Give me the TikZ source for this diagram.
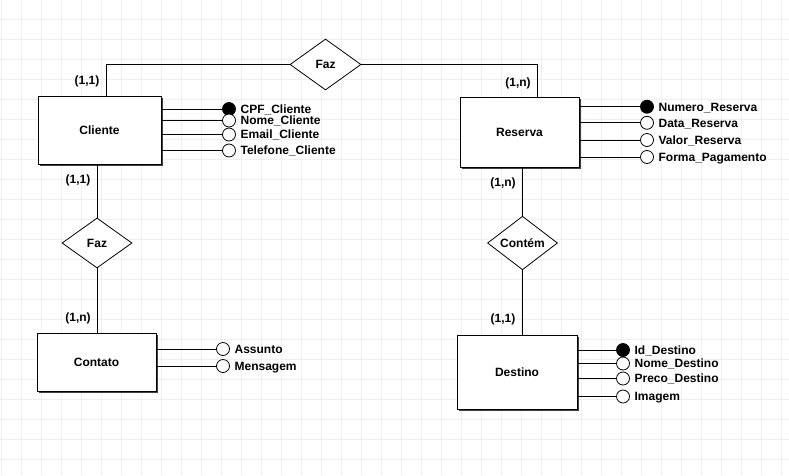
\documentclass[tikz,border=0pt]{standalone}
\usepackage{fontspec}
\setmainfont{Liberation Sans}
\usetikzlibrary{shapes.geometric,shadows}

\tikzset{
  gridline/.style={draw={rgb,255:red,236;green,239;blue,243}, line width=0.9pt},
  entity/.style={rectangle, draw=black, fill=white, line width=0.9pt, inner sep=0pt,
    font=\bfseries\fontsize{12}{14}\selectfont,
    drop shadow={shadow xshift=2pt, shadow yshift=-2pt, fill=black!75, opacity=1}},
  relation/.style={diamond, draw=black, fill=white, line width=0.8pt, inner sep=0pt,
    minimum width=70pt, minimum height=50pt, font=\bfseries\fontsize{12}{14}\selectfont},
  attr/.style={circle, draw=black, fill=white, line width=0.8pt, inner sep=0pt, minimum size=13pt},
  keyattr/.style={attr, fill=black},
  attrname/.style={anchor=base west, inner sep=0pt, font=\bfseries\fontsize{12}{14}\selectfont},
  card/.style={inner sep=0pt, font=\bfseries\fontsize{12}{14}\selectfont},
  link/.style={draw=black, line width=0.9pt},
}

\begin{document}
\begin{tikzpicture}[x=1pt, y=-1pt]
\useasboundingbox[fill=white] (0,0) rectangle (789,475);

% background grid
\foreach \gx in {1,21,...,781} \draw[gridline] (\gx,0) -- (\gx,475);
\foreach \gy in {19,39,...,459} \draw[gridline] (0,\gy) -- (789,\gy);

% entities
\node[entity, minimum width=123pt, minimum height=68pt] (cliente) at (99.5,130) {Cliente};
\node[entity, minimum width=119pt, minimum height=70pt] (reserva) at (519.5,132) {Reserva};
\node[entity, minimum width=119pt, minimum height=58pt] (contato) at (96.5,362) {Contato};
\node[entity, minimum width=120pt, minimum height=74pt] (destino) at (517,372) {Destino};

% relationships
\node[relation, minimum width=71pt, minimum height=51pt] (fazTop) at (325.5,64.5) {Faz};
\node[relation] (fazLeft) at (97,243) {Faz};
\node[relation] (contem) at (522.5,243) {Contém};

% relationship connectors
\draw[link] (fazTop.west) -| ([xshift=6.5pt]cliente.north);
\draw[link] (fazTop.east) -| ([xshift=17.5pt]reserva.north);
\draw[link] (fazLeft.north) -- (fazLeft.north |- cliente.south);
\draw[link] (fazLeft.south) -- (fazLeft.south |- contato.north);
\draw[link] (contem.north) -- (contem.north |- reserva.south);
\draw[link] (contem.south) -- (contem.south |- destino.north);

% cardinalities
\node[card] (cClienteTop) at (87,81) {(1,1)};
\node[card] (cReservaTop) at (518,83) {(1,n)};
\node[card] (cClienteBot) at (78,180) {(1,1)};
\node[card] (cContato) at (78,318) {(1,n)};
\node[card] (cReservaBot) at (503,183) {(1,n)};
\node[card] (cDestino) at (503,319) {(1,1)};

% Cliente attributes
\foreach \nm/\y/\st/\txt in {cpf/109/keyattr/CPF\_Cliente, nomeC/120.5/attr/Nome\_Cliente,
    emailC/134.5/attr/Email\_Cliente, telC/150.5/attr/Telefone\_Cliente} {
  \node[\st] (\nm) at (229,\y) {};
  \draw[link] (\nm.west) -- (\nm.west -| cliente.east);
  \node[attrname] (\nm-t) at ([xshift=4.5pt,yshift=-4.3pt]\nm.east) {\txt};
}

% Reserva attributes
\foreach \nm/\y/\st/\txt in {numR/106.7/keyattr/Numero\_Reserva, dataR/122.8/attr/Data\_Reserva,
    valorR/140/attr/Valor\_Reserva, formaR/157/attr/Forma\_Pagamento} {
  \node[\st] (\nm) at (647,\y) {};
  \draw[link] (\nm.west) -- (\nm.west -| reserva.east);
  \node[attrname] (\nm-t) at ([xshift=4.5pt,yshift=-4.3pt]\nm.east) {\txt};
}

% Contato attributes
\foreach \nm/\y/\st/\txt in {assunto/349/attr/Assunto, msg/366/attr/Mensagem} {
  \node[\st] (\nm) at (223,\y) {};
  \draw[link] (\nm.west) -- (\nm.west -| contato.east);
  \node[attrname] (\nm-t) at ([xshift=4.5pt,yshift=-4.3pt]\nm.east) {\txt};
}

% Destino attributes
\foreach \nm/\y/\st/\txt in {idD/350/keyattr/Id\_Destino, nomeD/363.5/attr/Nome\_Destino,
    precoD/378.5/attr/Preco\_Destino, imgD/396.5/attr/Imagem} {
  \node[\st] (\nm) at (623,\y) {};
  \draw[link] (\nm.west) -- (\nm.west -| destino.east);
  \node[attrname] (\nm-t) at ([xshift=4.5pt,yshift=-4.3pt]\nm.east) {\txt};
}
\end{tikzpicture}
\end{document}
